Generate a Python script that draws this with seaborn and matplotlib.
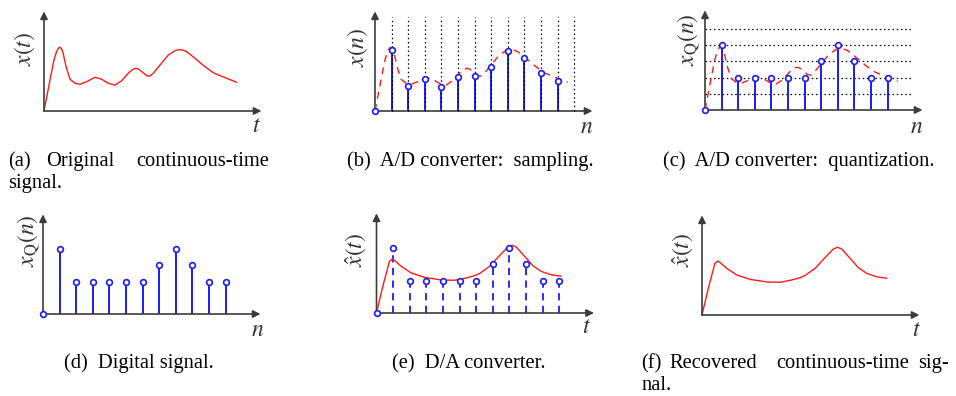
import matplotlib
matplotlib.use("Agg")
import matplotlib.pyplot as plt
import seaborn as sns

# ---------------- data ----------------
n_idx = list(range(12))
grid_n = list(range(1, 13))
sampled = [0, 3.77, 1.54, 1.98, 1.48, 2.10, 2.16, 2.72, 3.70, 3.27, 2.35, 1.85]
quantized = [0, 4, 2, 2, 2, 2, 2, 3, 4, 3, 2, 2]
quant_levels = [1, 2, 3, 4, 5]

orig_t = [0, 0.36, 0.60, 0.75, 0.87, 0.96, 1.05, 1.15, 1.33, 1.57, 1.87, 2.17,
          2.57, 3.07, 3.48, 3.87, 4.28, 4.68, 5.08, 5.33, 5.54, 5.72, 5.89,
          6.19, 6.39, 6.58, 6.99, 7.49, 7.89, 8.05, 8.19, 8.38, 8.60, 9.10,
          9.70, 10.20, 10.90, 11.61]
orig_x = [0, 1.91, 3.15, 3.65, 3.88, 3.93, 3.86, 3.58, 2.73, 1.96, 1.71, 1.65,
          1.81, 2.08, 1.96, 1.71, 1.60, 1.87, 2.33, 2.56, 2.64, 2.58, 2.43,
          2.18, 2.16, 2.33, 2.84, 3.46, 3.72, 3.77, 3.78, 3.75, 3.66, 3.25,
          2.73, 2.36, 2.06, 1.77]

rec_t = [0, 0.38, 0.78, 0.95, 1.08, 1.49, 2.09, 2.89, 3.90, 4.70, 5.40, 5.90,
         6.20, 6.81, 7.41, 7.91, 8.17, 8.42, 8.92, 9.42, 9.92, 10.52, 11.13]
rec_x = [0, 1.65, 3.19, 3.33, 3.25, 2.88, 2.47, 2.20, 2.04, 2.02, 2.16, 2.30,
         2.43, 2.88, 3.54, 4.07, 4.18, 4.07, 3.50, 2.92, 2.57, 2.36, 2.27]

ylabels = [r"$x(t)$", r"$x(n)$", r"$x_{\mathrm{Q}}(n)$",
           r"$x_{\mathrm{Q}}(n)$", r"$\hat{x}(t)$", r"$\hat{x}(t)$"]
xlabels = [r"$t$", r"$n$", r"$n$", r"$n$", r"$t$", r"$t$"]

# ---------------- style ----------------
sns.set_theme(style="white")
plt.rcParams["font.family"] = ["Liberation Serif", "DejaVu Serif"]
plt.rcParams["mathtext.fontset"] = "stix"

W, H = 956, 396
fig = plt.figure(figsize=(W / 100, H / 100), dpi=100)
fig.patch.set_facecolor("white")

SX, SY = 16.6, 16.2
XL = (-2.0, 13.8)
YL = (-1.5, 6.6)
XEND, YTOP = 13.1, 6.15
AXC = "#3c3c3c"
BLUE = "#1a1aff"
RED = "#ff1a1a"

origins = [(44, 111), (375, 111), (705, 110), (43, 314), (376.5, 313), (702, 315)]
ylab_pos = [(25, 49), (358, 47), (689, 40), (29, 241), (356, 250), (683, 250)]
xlab_pos = [(257, 127), (587, 127.5), (917, 127.5), (258, 330.5), (586, 327.5), (916, 330)]


def make_ax(ox, oy):
    left = ox + XL[0] * SX
    right = ox + XL[1] * SX
    top = oy - YL[1] * SY
    bottom = oy - YL[0] * SY
    ax = fig.add_axes([left / W, 1 - bottom / H, (right - left) / W, (bottom - top) / H])
    ax.set_xlim(*XL)
    ax.set_ylim(*YL)
    ax.axis("off")
    return ax


def draw_axes(ax):
    ap = dict(arrowstyle="-|>", color=AXC, lw=1.2, shrinkA=0, shrinkB=0, mutation_scale=11)
    ax.annotate("", xy=(XEND, 0), xytext=(0, 0), arrowprops=ap, zorder=3)
    ax.annotate("", xy=(0, YTOP), xytext=(0, 0), arrowprops=ap, zorder=3)


def markers(ax, x, y):
    sns.scatterplot(x=x, y=y, ax=ax, marker="o", s=17, facecolor="white",
                    edgecolor=BLUE, linewidth=1.2, zorder=6, clip_on=False, legend=False)


axes = [make_ax(*o) for o in origins]
for ax in axes:
    draw_axes(ax)

# (a) original signal
sns.lineplot(x=orig_t, y=orig_x, ax=axes[0], color=RED, lw=1.0, sort=False,
             estimator=None, legend=False)

# (b) sampling
ax = axes[1]
ax.vlines(grid_n, 0, 5.8, colors="black", lw=0.9, linestyles=(0, (1.2, 2.2)), zorder=4)
ax.vlines(n_idx[1:], 0, sampled[1:], colors=BLUE, lw=1.4, zorder=2)
sns.lineplot(x=orig_t, y=orig_x, ax=ax, color=RED, lw=1.0, sort=False,
             estimator=None, legend=False, zorder=5)
ax.lines[-1].set_linestyle((0, (5, 4)))
markers(ax, n_idx, sampled)

# (c) quantization
ax = axes[2]
ax.hlines(quant_levels, 0, 12.5, colors="black", lw=0.9, linestyles=(0, (1.2, 2.2)), zorder=1)
ax.vlines(n_idx[1:], 0, quantized[1:], colors=BLUE, lw=1.4, zorder=2)
sns.lineplot(x=orig_t, y=orig_x, ax=ax, color=RED, lw=1.0, sort=False,
             estimator=None, legend=False, zorder=5)
ax.lines[-1].set_linestyle((0, (5, 4)))
markers(ax, n_idx, quantized)

# (d) digital signal
ax = axes[3]
ax.vlines(n_idx[1:], 0, quantized[1:], colors=BLUE, lw=1.4, zorder=2)
markers(ax, n_idx, quantized)

# (e) D/A converter
ax = axes[4]
ax.vlines(n_idx[1:], 0, quantized[1:], colors=BLUE, lw=1.3, linestyles=(0, (4, 3)), zorder=2)
sns.lineplot(x=rec_t, y=rec_x, ax=ax, color=RED, lw=1.0, sort=False,
             estimator=None, legend=False, zorder=5)
markers(ax, n_idx, quantized)

# (f) recovered
sns.lineplot(x=rec_t, y=rec_x, ax=axes[5], color=RED, lw=1.0, sort=False,
             estimator=None, legend=False)

# labels
LFS = 17
for (x, y), s in zip(ylab_pos, ylabels):
    fig.text(x / W, 1 - y / H, s, rotation=90, ha="center", va="center",
             fontsize=LFS, color="#333333")
for (x, y), s in zip(xlab_pos, xlabels):
    fig.text(x / W, 1 - y / H, s, ha="center", va="center", fontsize=LFS, color="#333333")

# captions
CFS = 14.8


def ftext(x, y, s, ha="left"):
    fig.text(x / W, 1 - y / H, s, ha=ha, va="baseline", fontsize=CFS, color="black")


# (a) justified two-line caption
ftext(8, 166, "(a)")
ftext(46, 166, "Original")
ftext(269, 166, "continuous-time", ha="right")
ftext(8, 188, "signal.")
ftext(470, 166, "(b)  A/D converter:  sampling.", ha="center")
ftext(798.5, 166, "(c)  A/D converter:  quantization.", ha="center")
ftext(139, 368, "(d)  Digital signal.", ha="center")
ftext(469, 368, "(e)  D/A converter.", ha="center")
# (f) justified two-line caption
ftext(641, 368, "(f)")
ftext(669, 368, "Recovered")
ftext(776, 368, "continuous-time")
ftext(949, 368, "sig-", ha="right")
ftext(641, 390, "nal.")

fig.savefig("out.png", dpi=100, facecolor="white")
